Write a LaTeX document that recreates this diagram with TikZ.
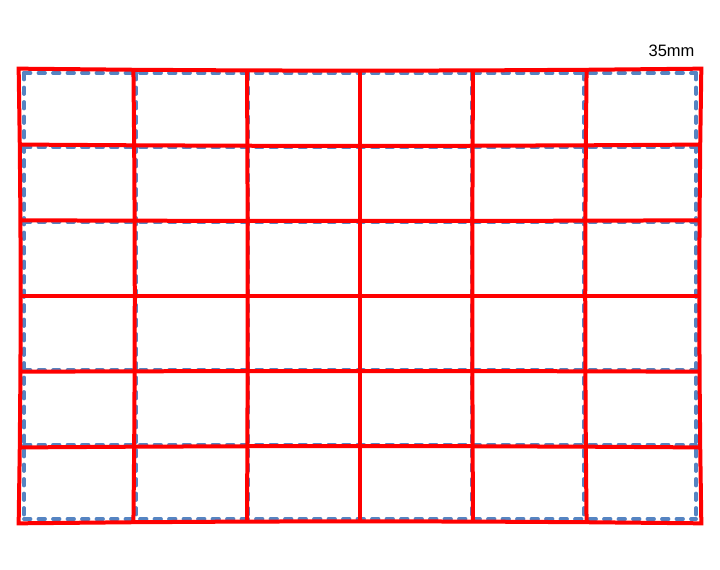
\documentclass[tikz,border=0pt]{standalone}
\usepackage{fontspec}
\setmainfont{Liberation Sans}
\definecolor{gridred}{HTML}{FF0000}
\definecolor{gridblue}{HTML}{5584C2}
\tikzset{
  bluegrid/.style={draw=gridblue, line width=3.8pt, line cap=round, dash pattern=on 6.5pt off 8pt},
  redgrid/.style={draw=gridred, line width=4pt, line join=miter},
  labeltext/.style={font=\fontsize{16.5}{18}\selectfont, anchor=base, inner sep=0pt}
}
\begin{document}
\begin{tikzpicture}[x=1pt,y=1pt]
\useasboundingbox (0,0) rectangle (720,570);
% ideal (blue) and distorted (red) grid points
\foreach \i in {0,...,6} {
  \foreach \j in {0,...,6} {
    \pgfmathsetmacro\dx{(\i-3)*1.12}
    \pgfmathsetmacro\dy{(3-\j)*0.743333}
    \pgfmathsetmacro\fx{1.002+0.0007*\dx*\dx+0.0012*\dy*\dy}
    \pgfmathsetmacro\fy{1.009+0.0008*\dx*\dx+0.0003*\dy*\dy}
    \coordinate (b-\i-\j) at ({360+100*\dx},{274+100*\dy});
    \coordinate (r-\i-\j) at ({360+100*\dx*\fx},{274+100*\dy*\fy});
  }
}
% blue dashed grid
\foreach \j in {0,...,6} { \draw[bluegrid] (b-0-\j) -- (b-6-\j); }
\foreach \i in {0,...,6} { \draw[bluegrid] (b-\i-0) -- (b-\i-6); }
% red distorted grid
\foreach \j in {1,...,5} {
  \draw[redgrid] (r-0-\j) \foreach \i in {1,...,6} { -- (r-\i-\j) };
}
\foreach \i in {1,...,5} {
  \draw[redgrid] (r-\i-0) \foreach \j in {1,...,6} { -- (r-\i-\j) };
}
\draw[redgrid] (r-0-0) \foreach \i in {1,...,6} { -- (r-\i-0) }
  \foreach \j in {1,...,6} { -- (r-6-\j) }
  \foreach \i in {5,4,3,2,1,0} { -- (r-\i-6) }
  \foreach \j in {5,4,3,2,1} { -- (r-0-\j) } -- cycle;
\node[labeltext] (label) at (671.5,513.5) {35mm};
\end{tikzpicture}
\end{document}
